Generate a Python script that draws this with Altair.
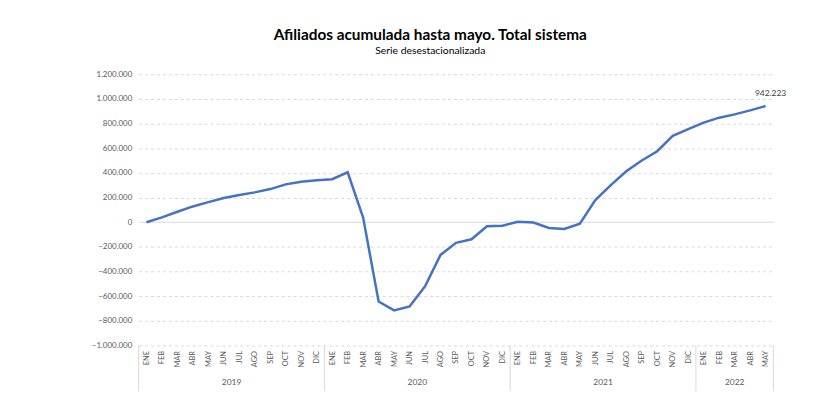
import altair as alt
import pandas as pd

# ---- data ----
month_names = ["ENE", "FEB", "MAR", "ABR", "MAY", "JUN", "JUL", "AGO", "SEP", "OCT", "NOV", "DIC"]
years = ["2019", "2020", "2021", "2022"]
months_per_year = [12, 12, 12, 5]

values_2019 = [0, 40000, 85000, 128000, 163000, 197000, 221000, 242000, 269000, 307000, 329000, 341000]
values_2020 = [349000, 405000, 38000, -643000, -715000, -683000, -519000, -265000, -167000, -138000, -32000, -28000]
values_2021 = [4000, -2000, -47000, -55000, -12000, 180000, 301000, 413000, 501000, 576000, 701000, 755000]
values_2022 = [808000, 848000, 875000, 907000, 942223]

y_ticks = [-1000000, -800000, -600000, -400000, -200000, 0, 200000, 400000, 600000, 800000, 1000000, 1200000]

title_text = "Afiliados acumulada hasta mayo. Total sistema"
subtitle_text = "Serie desestacionalizada"
end_label = "942.223"

# ---- tables ----
all_values = values_2019 + values_2020 + values_2021 + values_2022
df = pd.DataFrame({"idx": list(range(len(all_values))), "value": all_values})

bounds = [-0.5]
mids = []
start = 0
for n in months_per_year:
    mids.append(start + (n - 1) / 2)
    start += n
    bounds.append(start - 0.5)
df_bounds = pd.DataFrame({"b": bounds})
df_years = pd.DataFrame({"mid": mids, "year": years})
df_end = pd.DataFrame({"idx": [len(all_values) - 1], "value": [all_values[-1]], "label": [end_label]})

W, H = 641, 274
N = len(all_values)
label_color = "#595959"
grid_color = "#d9d9d9"
FONT = "Lato"

names_js = "[" + ",".join("'" + m + "'" for m in month_names) + "]"

x_scale = alt.Scale(domain=[-0.5, N - 0.5], nice=False, zero=False)
y_scale = alt.Scale(domain=[-1000000, 1200000], nice=False)

x_axis = alt.Axis(title=None, values=list(range(N)), labelExpr=names_js + "[datum.value % 12]",
                  labelAngle=-90, labelFontSize=7.5, labelFont=FONT, labelColor=label_color,
                  labelPadding=5, ticks=False, domain=False, grid=False, labelOverlap=False,
                  labelBound=False, labelFlush=False)
y_axis = alt.Axis(title=None, values=y_ticks,
                  labelExpr="replace(format(datum.value, ','), regexp(',', 'g'), '.')",
                  labelFontSize=8, labelFont=FONT, labelColor=label_color, labelPadding=7,
                  labelOverlap=False, labelBound=False, labelFlush=False,
                  ticks=False, domain=False, gridColor=grid_color, gridWidth=1,
                  gridDash=alt.condition("datum.value == 0", alt.value([]), alt.value([3, 3])))

line = alt.Chart(df).mark_line(color="#4472C4", strokeWidth=2.5).encode(
    x=alt.X("idx:Q", scale=x_scale, axis=x_axis),
    y=alt.Y("value:Q", scale=y_scale, axis=y_axis),
)

seps = alt.Chart(df_bounds).mark_rule(color=grid_color, strokeWidth=1).encode(
    x=alt.X("b:Q", scale=x_scale, axis=x_axis),
    y=alt.value(H),
    y2=alt.value(H + 46),
)

year_text = alt.Chart(df_years).mark_text(font=FONT, fontSize=8.5, color=label_color, baseline="middle").encode(
    x=alt.X("mid:Q", scale=x_scale, axis=x_axis),
    y=alt.value(H + 37),
    text="year:N",
)

end_text = alt.Chart(df_end).mark_text(font=FONT, fontSize=8.5, color="#404040", baseline="bottom", dy=-8, dx=5).encode(
    x=alt.X("idx:Q", scale=x_scale, axis=x_axis),
    y=alt.Y("value:Q", scale=y_scale, axis=y_axis),
    text="label:N",
)

chart = alt.layer(line, seps, year_text, end_text).properties(
    width=W,
    height=H,
    autosize=alt.AutoSizeParams(type="none"),
    padding={"left": 132, "top": 65, "right": 34, "bottom": 46},
    title=alt.TitleParams(text=title_text, subtitle=subtitle_text, anchor="middle", frame="group",
                          dx=-26, offset=14, font=FONT, fontSize=15.5, fontWeight="bold", color="#000000",
                          subtitleFont=FONT, subtitleFontSize=10.5, subtitleColor="#000000", subtitlePadding=3),
).configure_view(stroke=None).configure_axis(labelOverlap=False)

chart.save("out.html", embed_options={"renderer": "svg", "actions": False})
